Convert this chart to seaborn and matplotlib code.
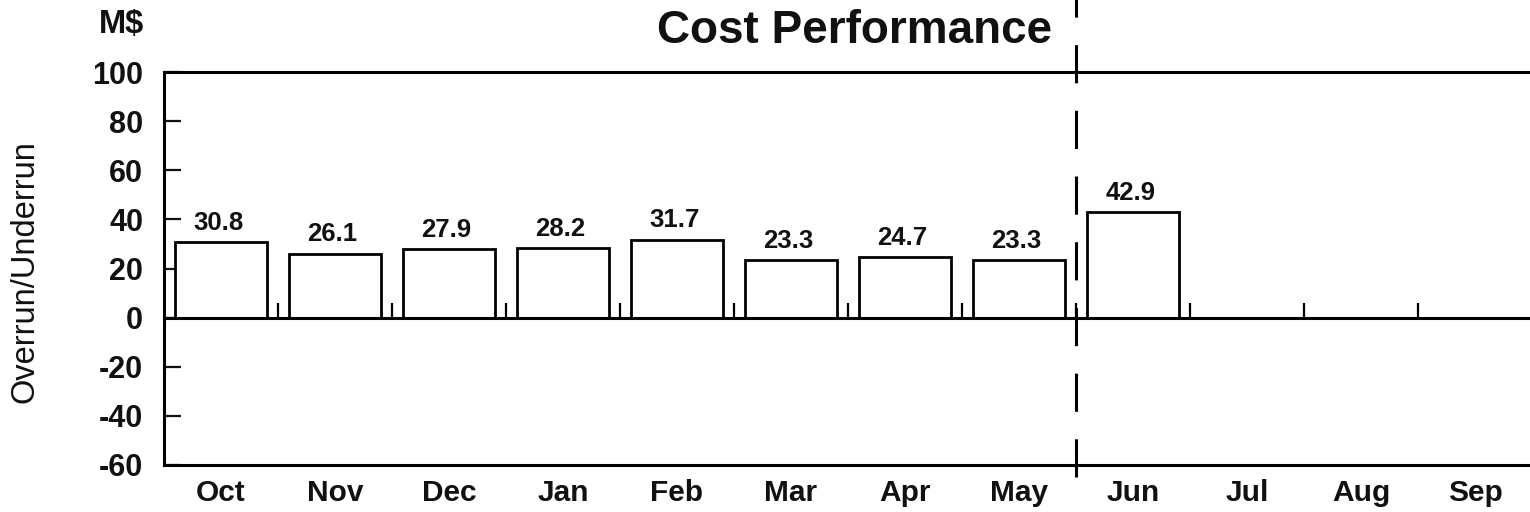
import numpy as np
import pandas as pd
import matplotlib
matplotlib.use("Agg")
import matplotlib.pyplot as plt
import seaborn as sns

months = ["Oct", "Nov", "Dec", "Jan", "Feb", "Mar", "Apr", "May", "Jun", "Jul", "Aug", "Sep"]
values = [30.8, 26.1, 27.9, 28.2, 31.7, 23.3, 24.7, 23.3, 42.9, np.nan, np.nan, np.nan]
yticks = [-60, -40, -20, 0, 20, 40, 60, 80, 100]
split_month = "Jun"

sns.set_theme(style="white")
plt.rcParams["font.family"] = ["Liberation Sans", "DejaVu Sans"]

df = pd.DataFrame({"month": months, "value": values})

fig = plt.figure(figsize=(15.3, 5.12), dpi=100)
fig.patch.set_facecolor("white")
ax = fig.add_axes([164 / 1530, 1 - 465 / 512, 1368 / 1530, 393 / 512])
ax.set_facecolor("white")

sns.barplot(data=df, x="month", y="value", order=months, color="white",
            edgecolor="black", linewidth=2.0, width=0.8, ax=ax, errorbar=None,
            saturation=1)

n = len(months)
ax.set_xlim(-0.5, n - 0.5)
ax.set_ylim(yticks[0], yticks[-1])
ax.set_yticks(yticks)
ax.set_yticklabels([str(t) for t in yticks], fontsize=22, fontweight="bold")
ax.set_xticks(range(n))
ax.set_xticklabels(months, fontsize=21.5, fontweight="bold")
ax.tick_params(axis="y", direction="in", length=12, width=1.6, pad=15, colors="#111111", left=True)
ax.tick_params(axis="x", length=0, pad=10, colors="#111111")
ax.set_xlabel("")
ax.set_ylabel("")

for side in ["left", "top", "bottom"]:
    ax.spines[side].set_visible(True)
    ax.spines[side].set_color("black")
    ax.spines[side].set_linewidth(2.2)
ax.spines["right"].set_visible(False)

# zero line and category separators
ax.axhline(0, color="black", lw=2.2, zorder=3)
ax.vlines(np.arange(n - 1) + 0.5, 0, 6, color="black", lw=1.6, zorder=3)

# value labels
for i, v in enumerate(values):
    if not np.isnan(v):
        ax.annotate(f"{v:.1f}", (i, v), xytext=(-2, 14), textcoords="offset points",
                    ha="center", va="center", fontsize=18.5, fontweight="bold", color="#111111")

# dashed divider between actual and forecast
xs = months.index(split_month) - 0.5
ax.plot([xs, xs], [-65, 130], color="black", lw=2.2, linestyle=(0, (12.5, 9)),
        clip_on=False, zorder=4)

fig.text(855 / 1530, 1 - 31 / 512, "Cost Performance", ha="center", va="center",
         fontsize=33, fontweight="bold", color="#111111")
fig.text(122 / 1530, 1 - 25 / 512, "M$", ha="center", va="center",
         fontsize=23.5, fontweight="bold", color="#111111")
fig.text(25 / 1530, 1 - 272 / 512, "Overrun/Underrun", ha="center", va="center",
         rotation=90, fontsize=23.5, color="#111111")

fig.savefig("out.png", dpi=100, facecolor="white")
